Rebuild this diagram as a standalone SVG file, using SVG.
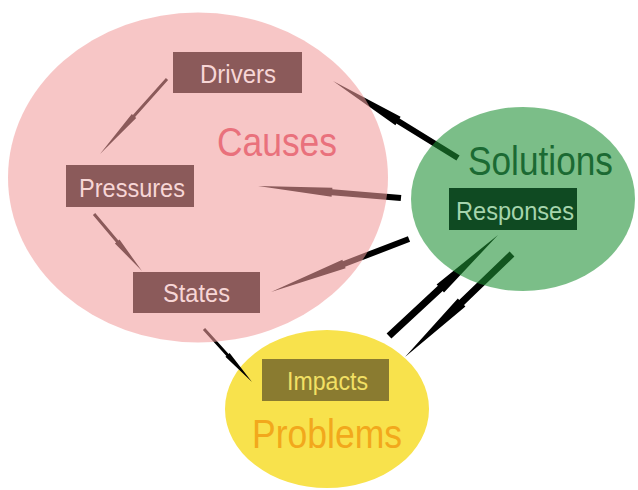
<svg xmlns="http://www.w3.org/2000/svg" width="638" height="490" viewBox="0 0 638 490">
  <style>
    text { font-family: "Liberation Sans", Arial, sans-serif; text-anchor: middle; }
    .big { font-size: 41px; }
    .lbl { font-size: 26px; }
    .conn { fill: #000; }
    .box-cause { fill: #8b5a5a; }
    .txt-cause { fill: #f7d6d6; }
  </style>
  <rect width="638" height="490" fill="#fff"/>

  <!-- Problems (opaque, lies beneath the connectors) -->
  <g id="problems">
    <ellipse cx="327" cy="409" rx="102" ry="79" fill="#f8e24c"/>
  </g>

  <!-- Tapered arrows: blunt shaft, step at the head base, fine point -->
  <g id="connectors" class="conn">
    <path d="M459.6,155.4 L399.6,118.4 L400.6,116.7 L333,81 L395.4,125.3 L396.4,123.6 L456.4,160.6 Z"/>
    <path d="M401.3,195 L332.3,189.2 L332.4,187.7 L258,186 L331.6,196.7 L331.7,195.2 L400.7,201 Z"/>
    <path d="M407.9,236.2 L342.9,261.2 L342.4,259.8 L271,292 L345.6,268.2 L345.1,266.8 L410.1,241.8 Z"/>
    <path d="M391.4,338.6 L442.7,291 L444,292.4 L498,235 L436.6,284.4 L437.9,285.8 L386.6,333.4 Z"/>
    <path d="M509.6,251.5 L459.2,300.1 L457.8,298.6 L405,357 L465.4,306.6 L464,305.1 L514.4,256.5 Z"/>
    <path d="M165.9,78 L132.9,114.9 L131.8,113.9 L100,154 L136.2,117.9 L135.1,116.9 L168.1,80 Z"/>
    <path d="M92.9,215 L116.1,242.5 L114.9,243.4 L142,271 L119.5,239.6 L118.4,240.5 L95.2,213 Z"/>
    <path d="M202.9,330 L226.4,355.9 L225.4,356.8 L252,382 L229.6,353 L228.6,353.9 L205.1,328 Z"/>
  </g>

  <!-- Causes: translucent so connectors beneath turn dusky -->
  <g id="causes">
    <ellipse cx="198" cy="177.5" rx="190" ry="165" fill="#f19c9c" fill-opacity="0.576"/>
    <text class="big" x="277" y="156" fill="#e9717c" textLength="120" lengthAdjust="spacingAndGlyphs">Causes</text>
  </g>

  <!-- Solutions: translucent green -->
  <g id="solutions">
    <ellipse cx="523" cy="199" rx="112" ry="92" fill="#1e9135" fill-opacity="0.59"/>
    <text class="big" x="540.5" y="175" fill="#1b6a33" textLength="145" lengthAdjust="spacingAndGlyphs">Solutions</text>
  </g>

  <g id="drivers">
    <rect class="box-cause" x="173" y="52" width="129" height="41"/>
    <text class="lbl txt-cause" x="238" y="83" textLength="76" lengthAdjust="spacingAndGlyphs">Drivers</text>
  </g>

  <g id="pressures">
    <rect class="box-cause" x="66" y="165" width="128" height="42"/>
    <text class="lbl txt-cause" x="132" y="197" textLength="106" lengthAdjust="spacingAndGlyphs">Pressures</text>
  </g>

  <g id="states">
    <rect class="box-cause" x="133" y="272" width="127" height="41"/>
    <text class="lbl txt-cause" x="196.5" y="302" textLength="67" lengthAdjust="spacingAndGlyphs">States</text>
  </g>

  <g id="responses">
    <rect x="449" y="188" width="128" height="42" fill="#0f4a22"/>
    <text x="515" y="220" font-size="25" fill="#a6d4ad" textLength="118" lengthAdjust="spacingAndGlyphs">Responses</text>
  </g>

  <g id="impacts">
    <rect x="262" y="359" width="127" height="42" fill="#8a7b30"/>
    <text class="lbl" x="327.5" y="390" fill="#f2e064" textLength="81" lengthAdjust="spacingAndGlyphs">Impacts</text>
    <text class="big" x="327" y="448" fill="#f2a81c" textLength="150" lengthAdjust="spacingAndGlyphs">Problems</text>
  </g>
</svg>
